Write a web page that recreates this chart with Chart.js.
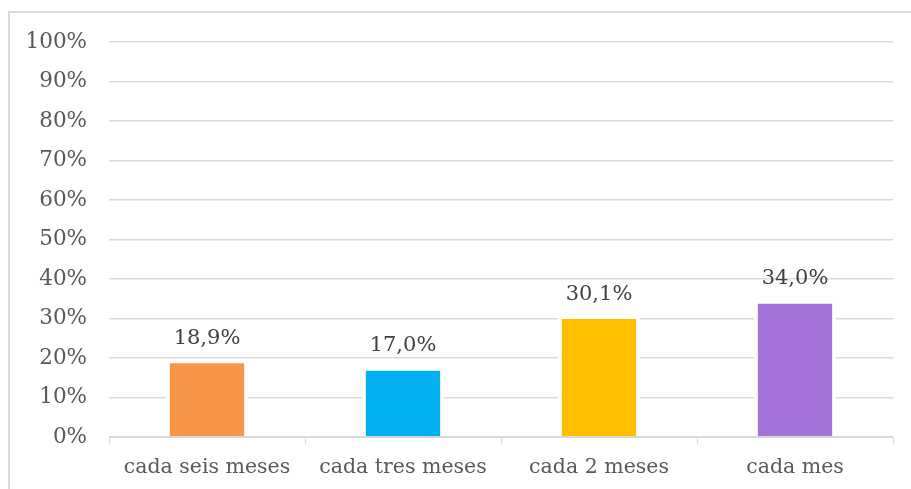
<!DOCTYPE html>
<html>
<head>
<meta charset="utf-8">
<script src="https://cdn.jsdelivr.net/npm/chart.js@4/dist/chart.umd.min.js"></script>
<style>
  html, body { margin: 0; padding: 0; background: #fff; overflow: hidden; }
  #marco { position: absolute; left: 8px; top: 11px; width: 1000px; height: 1000px; border: 2px solid #d9d9d9; }
  #caja { position: absolute; left: 0; top: 0; width: 911px; height: 489px; }
</style>
</head>
<body>
<div id="marco"></div>
<div id="caja"><canvas id="miGrafico"></canvas></div>
<script>
// datos del grafico
const categorias = ['cada seis meses', 'cada tres meses', 'cada 2 meses', 'cada mes'];
const valores = [18.9, 17.0, 30.1, 34.0];
const colores = ['#F79646', '#00B0F0', '#FFC000', '#A674D8'];
const ticksY = [0, 10, 20, 30, 40, 50, 60, 70, 80, 90, 100];

const fuente = 'DejaVu Serif';

// etiquetas encima de las barras
const etiquetas = {
    id: 'etiquetas',
    afterDatasetsDraw(chart) {
        const ctx = chart.ctx;
        const meta = chart.getDatasetMeta(0);
        ctx.save();
        ctx.font = '21px "' + fuente + '"';
        ctx.fillStyle = '#404040';
        ctx.textAlign = 'center';
        ctx.textBaseline = 'middle';
        meta.data.forEach((barra, i) => {
            const txt = valores[i].toFixed(1).replace('.', ',') + '%';
            ctx.fillText(txt, barra.x, barra.y - 24);
        });
        ctx.restore();
    }
};

const ctx = document.getElementById('miGrafico').getContext('2d');
new Chart(ctx, {
    type: 'bar',
    data: {
        labels: categorias,
        datasets: [{
            data: valores,
            backgroundColor: colores,
            borderColor: '#ffffff',
            borderWidth: { left: 4, right: 4, top: 1, bottom: 0 },
            borderSkipped: false,
            barPercentage: 0.42,
            categoryPercentage: 1
        }]
    },
    options: {
        responsive: true,
        maintainAspectRatio: false,
        animation: false,
        layout: { padding: { top: 42, right: 18, left: 0, bottom: 0 } },
        plugins: {
            legend: { display: false },
            tooltip: { enabled: false }
        },
        scales: {
            x: {
                afterFit: (s) => { s.height = 52; },
                border: { color: '#d9d9d9', width: 1 },
                grid: { drawOnChartArea: false, drawTicks: true, tickLength: 7, color: '#d9d9d9' },
                ticks: {
                    color: '#595959',
                    padding: 11,
                    font: { family: fuente, size: 20.5 }
                }
            },
            y: {
                min: 0,
                max: 100,
                afterFit: (s) => { s.width = 109; },
                afterBuildTicks: (s) => { s.ticks = ticksY.map(v => ({ value: v })); },
                border: { display: false },
                grid: { color: '#d9d9d9', lineWidth: 1.5, drawTicks: false },
                ticks: {
                    color: '#595959',
                    padding: 22,
                    font: { family: fuente, size: 21.5 },
                    callback: (v) => v + '%'
                }
            }
        }
    },
    plugins: [etiquetas]
});
</script>
</body>
</html>
